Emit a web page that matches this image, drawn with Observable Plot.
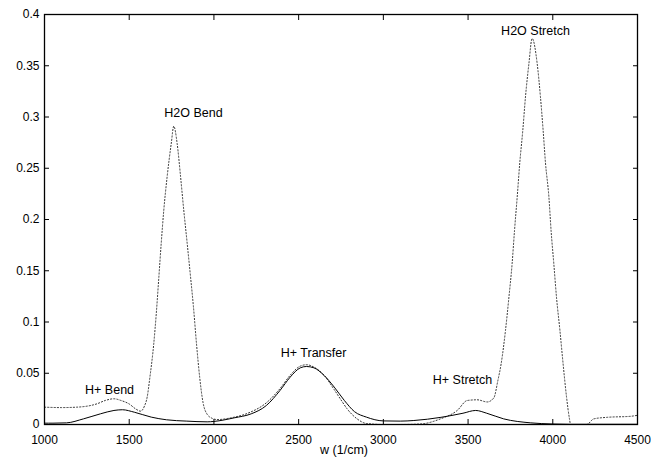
<!DOCTYPE html>
<html>
<head>
<meta charset="utf-8">
<script src="https://cdn.jsdelivr.net/npm/d3@7"></script>
<script src="https://cdn.jsdelivr.net/npm/@observablehq/plot@0.6"></script>
<style>
  html, body { margin: 0; padding: 0; background: #fff; }
  #chart svg { display: block; font-family: "Liberation Sans", Arial, sans-serif; }
</style>
</head>
<body>
<div id="chart"></div>
<script>
// Solid curve (H+ spectrum)
const solidW = [1000, 1050, 1130, 1230, 1330, 1410, 1460, 1530, 1630, 1720, 1840, 1960, 2000, 2120, 2220, 2310, 2390, 2450, 2510, 2546, 2590, 2650, 2710, 2770, 2830, 2900, 3000, 3100, 3180, 3340, 3470, 3545, 3610, 3710, 3870, 4000, 4100, 4300, 4500];
const solidV = [0.0013, 0.0013, 0.0016, 0.0055, 0.0104, 0.0137, 0.0144, 0.0120, 0.0072, 0.0046, 0.0033, 0.0026, 0.0030, 0.0065, 0.0104, 0.0186, 0.0332, 0.0462, 0.0553, 0.0566, 0.0553, 0.0479, 0.0365, 0.0234, 0.0125, 0.0072, 0.0035, 0.0033, 0.0039, 0.0070, 0.0110, 0.0137, 0.0110, 0.0055, 0.0016, 0.0005, 0.0002, 0.0002, 0.0002];

// Dotted curve (total spectrum)
const dottedW = [1000, 1100, 1190, 1310, 1360, 1410, 1450, 1500, 1540, 1567, 1590, 1606, 1622, 1645, 1661, 1675, 1689, 1704, 1724, 1748, 1763, 1783, 1803, 1822, 1842, 1862, 1879, 1897, 1916, 1935, 1960, 1990, 2020, 2100, 2200, 2314, 2390, 2450, 2510, 2546, 2590, 2650, 2710, 2750, 2786, 2845, 2900, 3000, 3100, 3219, 3337, 3436, 3495, 3554, 3613, 3652, 3676, 3695, 3721, 3741, 3760, 3774, 3790, 3805, 3823, 3839, 3859, 3878, 3908, 3927, 3943, 3957, 3977, 3990, 4006, 4022, 4042, 4061, 4081, 4098, 4105, 4200, 4242, 4321, 4459, 4500];
const dottedV = [0.0169, 0.0165, 0.0169, 0.0202, 0.0235, 0.0251, 0.0235, 0.0200, 0.0150, 0.0130, 0.0180, 0.0267, 0.046, 0.079, 0.111, 0.144, 0.177, 0.209, 0.242, 0.274, 0.291, 0.274, 0.242, 0.209, 0.177, 0.144, 0.115, 0.079, 0.046, 0.022, 0.010, 0.006, 0.0048, 0.0065, 0.011, 0.0218, 0.035, 0.048, 0.057, 0.0583, 0.056, 0.048, 0.034, 0.024, 0.0153, 0.0055, 0.001, 0.0, 0.0, 0.0005, 0.0055, 0.0137, 0.0234, 0.0241, 0.022, 0.026, 0.043, 0.059, 0.092, 0.124, 0.157, 0.189, 0.222, 0.255, 0.287, 0.320, 0.352, 0.3766, 0.352, 0.320, 0.287, 0.255, 0.222, 0.189, 0.157, 0.124, 0.092, 0.059, 0.027, 0.006, 0.0, 0.0, 0.0055, 0.007, 0.008, 0.009];

// Annotations
const labelText = ["H+ Bend", "H2O Bend", "H+ Transfer", "H+ Stretch", "H2O Stretch"];
const labelW = [1384, 1879, 2588, 3467, 3898];
const labelV = [0.0332, 0.3037, 0.0693, 0.043, 0.3838];

// Ticks
const xTicks = [1000, 1500, 2000, 2500, 3000, 3500, 4000, 4500];
const yTicks = [0, 0.05, 0.1, 0.15, 0.2, 0.25, 0.3, 0.35, 0.4];
const yTickLabels = ["0", "0.05", "0.1", "0.15", "0.2", "0.25", "0.3", "0.35", "0.4"];
const xAxisLabel = "w (1/cm)";

const solid = solidW.map((w, i) => ({w, v: solidV[i]}));
const dotted = dottedW.map((w, i) => ({w, v: dottedV[i]}));
const labels = labelText.map((t, i) => ({t, w: labelW[i], v: labelV[i]}));

const chart = Plot.plot({
  width: 651,
  height: 464,
  marginLeft: 44,
  marginRight: 14,
  marginTop: 14,
  marginBottom: 40,
  style: {fontFamily: "Liberation Sans, Arial, sans-serif", fontSize: "12px", background: "#fff", color: "#000"},
  x: {domain: [1000, 4500], axis: null},
  y: {domain: [0, 0.4], axis: null},
  marks: [
    Plot.line(dotted, {x: "w", y: "v", stroke: "#333", strokeWidth: 1, strokeDasharray: "1.2,2", curve: "monotone-x"}),
    Plot.line(solid, {x: "w", y: "v", stroke: "#000", strokeWidth: 1, curve: "monotone-x"}),
    Plot.axisX(xTicks, {anchor: "bottom", tickSize: -5, tickPadding: 16, tickFormat: d => String(d), label: null, fontSize: 12}),
    Plot.axisX(xTicks, {anchor: "top", tickSize: -5, tickFormat: () => "", label: null}),
    Plot.axisY(yTicks, {anchor: "left", tickSize: -5, tickPadding: 10, tickFormat: (d, i) => yTickLabels[yTicks.indexOf(d)], label: null, fontSize: 12}),
    Plot.axisY(yTicks, {anchor: "right", tickSize: -5, tickFormat: () => "", label: null}),
    Plot.frame({stroke: "#000", strokeWidth: 1.3}),
    Plot.text(labels, {x: "w", y: "v", text: "t", fontSize: 12.5, fill: "#000"}),
    Plot.text([xAxisLabel], {frameAnchor: "bottom", text: d => d, dy: 29, dx: 3, fontSize: 12.5, fill: "#000"})
  ]
});
document.getElementById("chart").appendChild(chart);
</script>
</body>
</html>
